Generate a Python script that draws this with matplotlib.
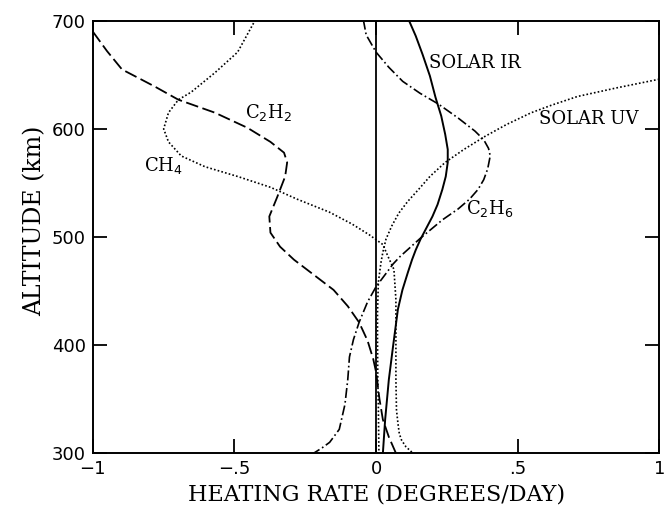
import matplotlib
matplotlib.use("Agg")
import matplotlib.pyplot as plt

# heating rate (deg/day) vs altitude (km)
alt_ir = [701, 686, 669, 649, 629, 612, 595, 581, 569, 556, 544, 530, 519, 498, 488, 479, 467, 451, 433,
          399, 368, 331, 300]
rate_ir = [0.115, 0.14, 0.164, 0.19, 0.21, 0.23, 0.244, 0.253, 0.253, 0.246, 0.234, 0.217, 0.199, 0.157, 0.14,
           0.127, 0.112, 0.093, 0.077, 0.06, 0.045, 0.032, 0.024]

alt_uv = [646, 638, 630, 622, 615, 604, 593, 581, 569, 556, 544, 533, 522, 510, 498, 486, 476, 458, 430, 405,
          370, 343, 300]
rate_uv = [1.0, 0.85, 0.711, 0.62, 0.548, 0.46, 0.384, 0.31, 0.244, 0.19, 0.15, 0.112, 0.08, 0.055, 0.035, 0.024,
           0.017, 0.008, 0.005, 0.005, 0.006, 0.008, 0.01]

alt_c2h6 = [701, 687, 671, 657, 644, 633, 623, 610, 598, 590, 582, 575, 563, 553, 544, 535, 526, 516, 499, 482,
            475, 454, 440, 421, 405, 389, 368, 345, 322, 310, 305, 300]
rate_c2h6 = [-0.045, -0.035, 0.0, 0.045, 0.094, 0.155, 0.22, 0.29, 0.349, 0.38, 0.397, 0.403, 0.394, 0.38, 0.36,
             0.33, 0.29, 0.235, 0.157, 0.085, 0.06, 0.0, -0.03, -0.06, -0.08, -0.094, -0.1, -0.11, -0.13, -0.164,
             -0.19, -0.22]

alt_c2h2 = [690, 672, 655, 646, 639, 627, 615, 601, 588, 578, 569, 556, 537, 519, 504, 491, 479, 473, 462, 451,
            436, 421, 404, 387, 375, 350, 331, 315, 300]
rate_c2h2 = [-1.0, -0.95, -0.897, -0.831, -0.78, -0.698, -0.569, -0.454, -0.373, -0.325, -0.314, -0.321, -0.349,
             -0.377, -0.373, -0.339, -0.29, -0.26, -0.205, -0.15, -0.1, -0.06, -0.03, -0.01, 0.0, 0.012, 0.024,
             0.045, 0.07]

alt_ch4 = [701, 671, 652, 634, 627, 615, 600, 588, 575, 565, 556, 546, 535, 523, 512, 502, 493, 482, 470, 442,
           368, 340, 328, 318, 312, 306, 300]
rate_ch4 = [-0.426, -0.489, -0.569, -0.653, -0.698, -0.733, -0.75, -0.733, -0.688, -0.604, -0.489, -0.373, -0.279,
            -0.165, -0.085, -0.024, 0.024, 0.042, 0.063, 0.07, 0.07, 0.072, 0.077, 0.082, 0.09, 0.105, 0.13]

xticks = [-1, -0.5, 0, 0.5, 1]
xticklabels = ['\u22121', '\u2212.5', '0', '.5', '1']
yticks = [300, 400, 500, 600, 700]

fig = plt.figure(figsize=(6.68, 5.08), dpi=100)
ax = fig.add_axes([0.139, 0.108, 0.848, 0.851])

ax.plot(rate_ir, alt_ir, color='black', lw=1.4)
ax.plot(rate_uv, alt_uv, color='black', lw=1.2, dashes=(1, 1.3))
ax.plot(rate_ch4, alt_ch4, color='black', lw=1.2, dashes=(1, 1.3))
ax.plot(rate_c2h2, alt_c2h2, color='black', lw=1.3, dashes=(7, 2.5))
ax.plot(rate_c2h6, alt_c2h6, color='black', lw=1.2, dashes=(6, 1.8, 1, 1.8))
ax.axvline(0, color='black', lw=1.3)

lab = dict(family='DejaVu Serif', fontsize=13, ha='center', va='center')
ax.text(-0.38, 615, 'C$_2$H$_2$', **lab)
ax.text(-0.752, 566, 'CH$_4$', **lab)
ax.text(0.35, 661, 'SOLAR IR', **lab)
ax.text(0.75, 609, 'SOLAR UV', **lab)
ax.text(0.4, 526, 'C$_2$H$_6$', **lab)

ax.set_xlim(-1, 1)
ax.set_ylim(300, 700)
ax.set_xticks(xticks)
ax.set_xticklabels(xticklabels)
ax.set_yticks(yticks)
ax.tick_params(direction='in', length=10, width=1.3, top=True, right=True,
               labelsize=13, pad=5)
for lbl in ax.get_xticklabels() + ax.get_yticklabels():
    lbl.set_family('DejaVu Sans')
for s in ax.spines.values():
    s.set_linewidth(1.4)

ax.set_xlabel('HEATING RATE (DEGREES/DAY)', family='DejaVu Serif', fontsize=16, labelpad=4)
ax.set_ylabel('ALTITUDE (km)', family='DejaVu Serif', fontsize=17)
ax.yaxis.set_label_coords(-0.082, 0.537)

plt.savefig('out.png', dpi=100)
